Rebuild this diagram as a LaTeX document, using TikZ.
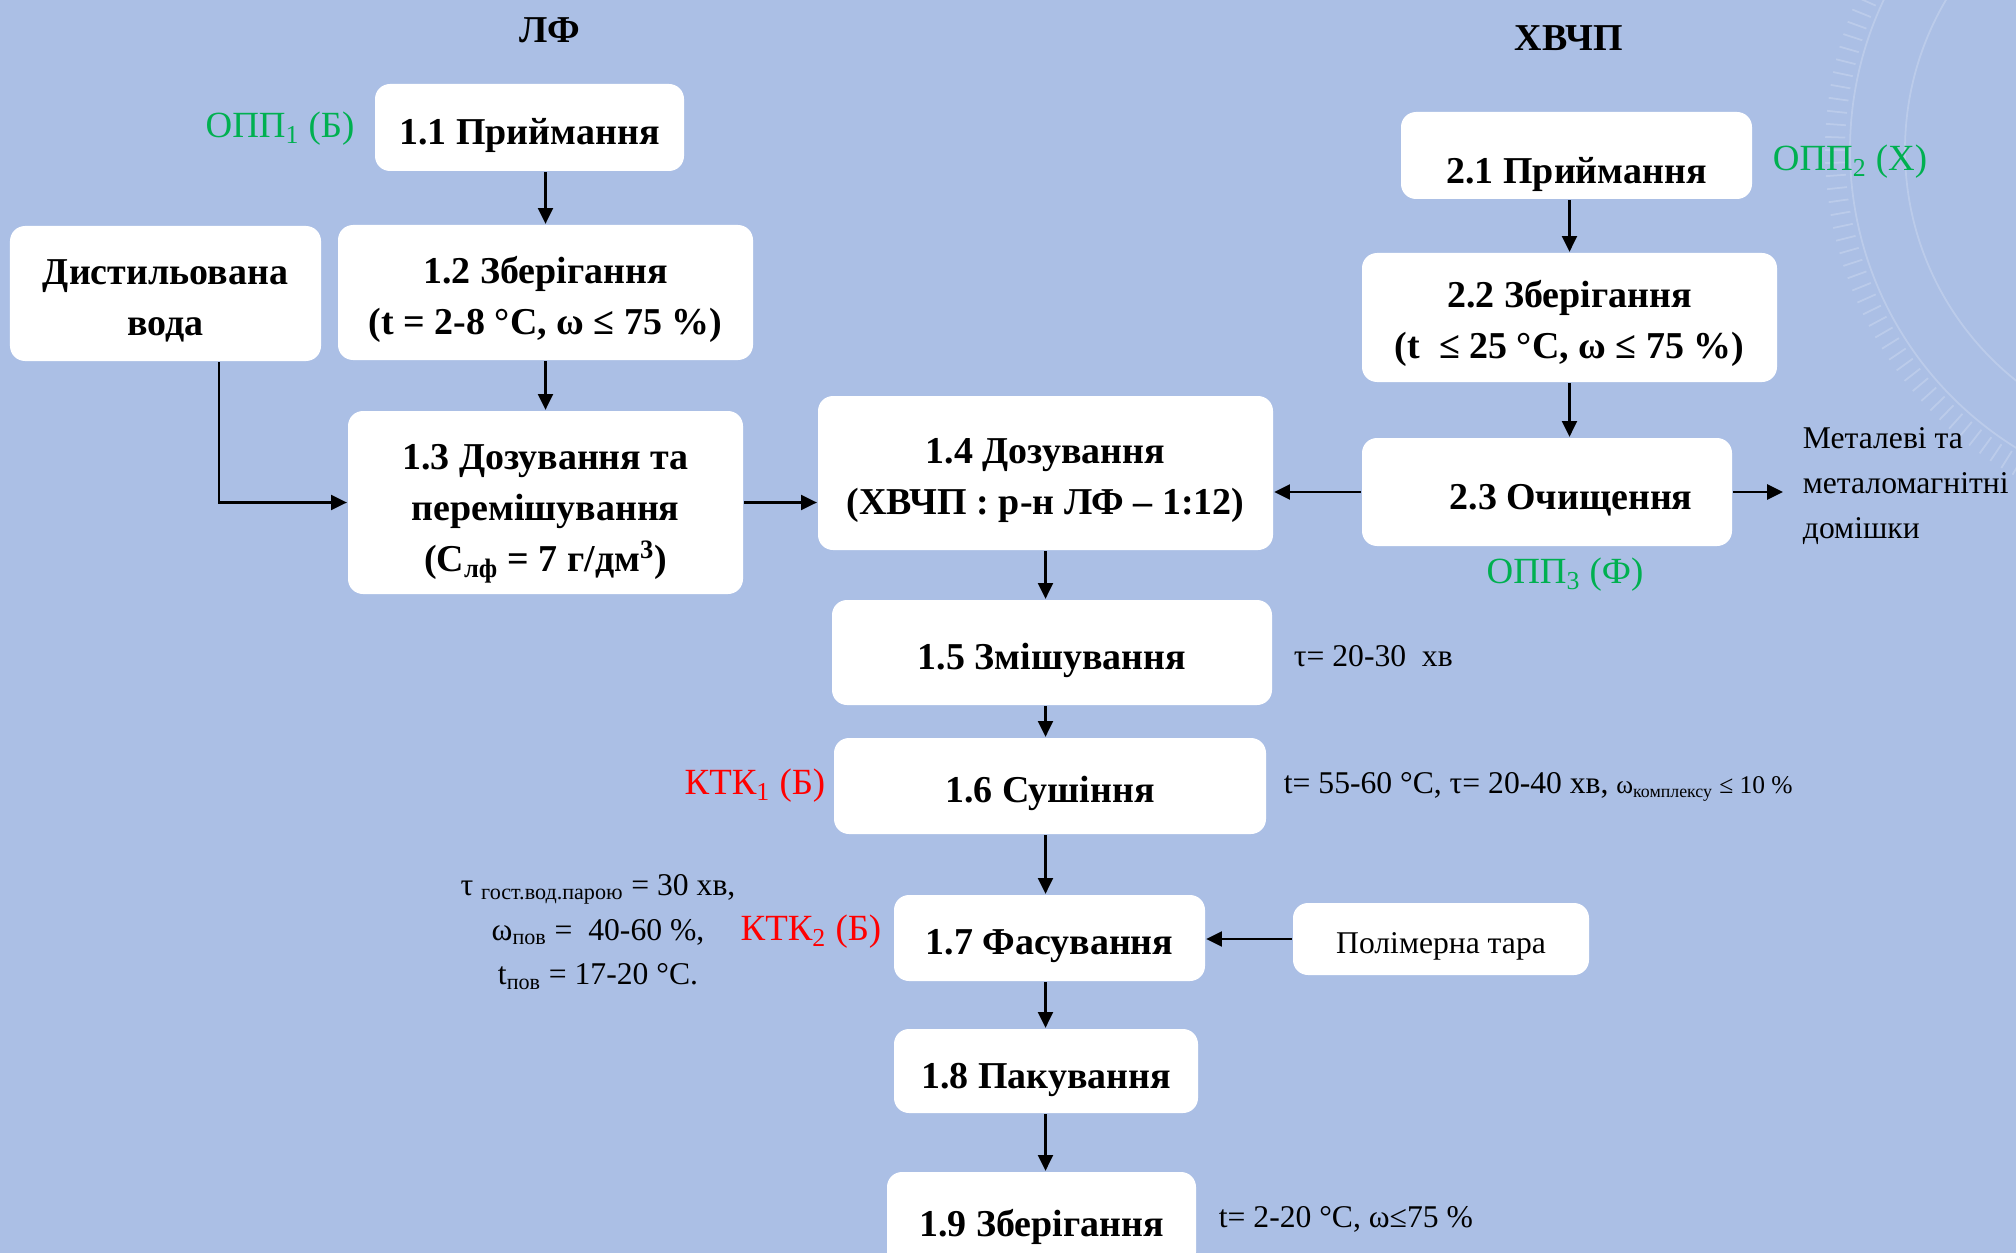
\documentclass[tikz,border=0pt]{standalone}
\usepackage{fontspec}
\setmainfont{Liberation Serif}
\usepackage{tikz}
\usetikzlibrary{arrows.meta,positioning,calc}
\definecolor{bgblue}{HTML}{ABBFE5}
\definecolor{oppgreen}{HTML}{00B050}
\definecolor{ktkred}{HTML}{FF0000}
\newcommand{\boxfont}{\fontsize{21.6}{29}\selectfont\bfseries}
\newcommand{\labfont}{\fontsize{21}{25}\selectfont}
\newcommand{\notefont}{\fontsize{18}{25.5}\selectfont}

\begin{document}
\begin{tikzpicture}[>={Triangle[length=9pt,width=8.5pt]}, line width=1.3pt,
  stage/.style={fill=white, rounded corners=0.3cm, align=center, inner sep=2pt, text height=24pt, font=\boxfont},
  ctrl/.style={font=\labfont, inner sep=1pt},
  note/.style={font=\notefont, inner sep=1pt, align=left}]
\useasboundingbox (0,0) rectangle (40.32,-25.06);
\fill[bgblue] (0,0) rectangle (40.32,-25.06);
% faint protractor behind the right column
\begin{scope}[white, opacity=0.2, line width=1pt]
  \draw (44,-3) circle (7);
  \draw (44,-3) circle (5.9);
  \foreach \a in {150,152,...,270} \draw (44,-3) ++(\a:7.1) -- ++(\a:0.4);
\end{scope}

\node[font=\boxfont] (tlf) at (11.0,-0.6) {ЛФ};
\node[font=\boxfont] (thv) at (31.38,-0.76) {ХВЧП};

% LF line
\node[stage, minimum width=6.18cm, minimum height=1.74cm] (n11) at (10.59,-2.55) {1.1 Приймання};
\node[stage, minimum width=6.22cm, minimum height=2.7cm, text height=52pt] (voda) at (3.31,-5.87) {Дистильована\\вода};
\node[stage, minimum width=8.3cm, minimum height=2.7cm, text height=52pt] (n12) at (10.91,-5.85) {1.2 Зберігання\\(t = 2-8 °C, ω ≤ 75 \%)};
\node[stage, minimum width=7.9cm, minimum height=3.66cm, text height=85pt] (n13) at (10.91,-10.05) {1.3 Дозування та\\перемішування\\(C\textsubscript{лф} = 7 г/дм\textsuperscript{3})};

% HVChP line
\node[stage, minimum width=7.02cm, minimum height=1.74cm, text height=37pt] (n21) at (31.53,-3.11) {2.1 Приймання};
\node[stage, minimum width=8.3cm, minimum height=2.58cm, text height=51pt] (n22) at (31.39,-6.35) {2.2 Зберігання\\(t~ ≤ 25 °C, ω ≤ 75 \%)};
\node[stage, minimum width=7.4cm, minimum height=2.16cm] (n23) at (30.94,-9.84) {\hspace*{0.96cm}2.3 Очищення};

% main column
\node[stage, minimum width=9.1cm, minimum height=3.08cm, text height=52pt] (n14) at (20.91,-9.46) {1.4 Дозування\\(ХВЧП : р-н ЛФ – 1:12)};
\node[stage, minimum width=8.8cm, minimum height=2.1cm] (n15) at (21.04,-13.05) {1.5 Змішування};
\node[stage, minimum width=8.64cm, minimum height=1.92cm] (n16) at (21.0,-15.72) {1.6 Сушіння};
\node[stage, minimum width=6.22cm, minimum height=1.72cm] (n17) at (20.99,-18.76) {1.7 Фасування};
\node[stage, font=\notefont, text height=20pt, minimum width=5.92cm, minimum height=1.44cm] (tara) at (28.82,-18.78) {Полімерна тара};
\node[stage, minimum width=6.08cm, minimum height=1.68cm] (n18) at (20.92,-21.42) {1.8 Пакування};
\node[stage, minimum width=6.18cm, minimum height=1.9cm] (n19) at (20.83,-24.39) {1.9 Зберігання};

% control points
\node[ctrl, text=oppgreen] (opp1) at (5.6,-2.58) {ОПП\textsubscript{1} (Б)};
\node[ctrl, text=oppgreen, anchor=west] (opp2) at (35.4,-3.24) {ОПП\textsubscript{2} (Х)};
\node[ctrl, text=oppgreen] (opp3) at (31.3,-11.5) {ОПП\textsubscript{3} (Ф)};
\node[ctrl, text=ktkred] (ktk1) at (15.1,-15.72) {КТК\textsubscript{1} (Б)};
\node[ctrl, text=ktkred] (ktk2) at (16.22,-18.64) {КТК\textsubscript{2} (Б)};

% regimes
\node[note, anchor=west] (waste) at (36.0,-9.72) {Металеві та\\металомагнітні\\домішки};
\node[note, anchor=west] (t15) at (25.82,-13.12) {τ= 20-30~ хв};
\node[note, anchor=west] (t16) at (25.62,-15.74) {t= 55-60 °C, τ= 20-40 хв, {\fontsize{14.5}{16}\selectfont ω\textsubscript{комплексу} ≤ 10 \%}};
\node[note, anchor=west] (t19) at (24.32,-24.38) {t= 2-20 °C, ω≤75 \%};
\node[note, align=center] (t17) at (11.96,-18.64) {τ \textsubscript{гост.вод.парою} = 30 хв,\\ω\textsubscript{пов} = ~40-60 \%,\\t\textsubscript{пов} = 17-20 °C.};

\draw[->] (n12 |- n11.south) -- (n12.north);
\draw[->] (n12.south) -- (n13.north);
\draw[->] ([xshift=1.07cm]voda.south) |- (n13.west);
\draw[->] (n13.east) -- (n13.east -| n14.west);
\draw[->] (n22 |- n21.south) -- (n22.north);
\draw[->] (n22.south) -- (n22.south |- n23.north);
\draw[->] (n23.west) -- (n23.west -| n14.east);
\draw[->] (n23.east) -- ([xshift=-0.34cm]n23.east -| waste.west);
\foreach \a/\b in {n14/n15,n15/n16,n16/n17,n17/n18,n18/n19}
  \draw[->] (n14.south |- \a.south) -- (n14.south |- \b.north);
\draw[->] (tara.west) -- (tara.west -| n17.east);
\end{tikzpicture}
\end{document}
